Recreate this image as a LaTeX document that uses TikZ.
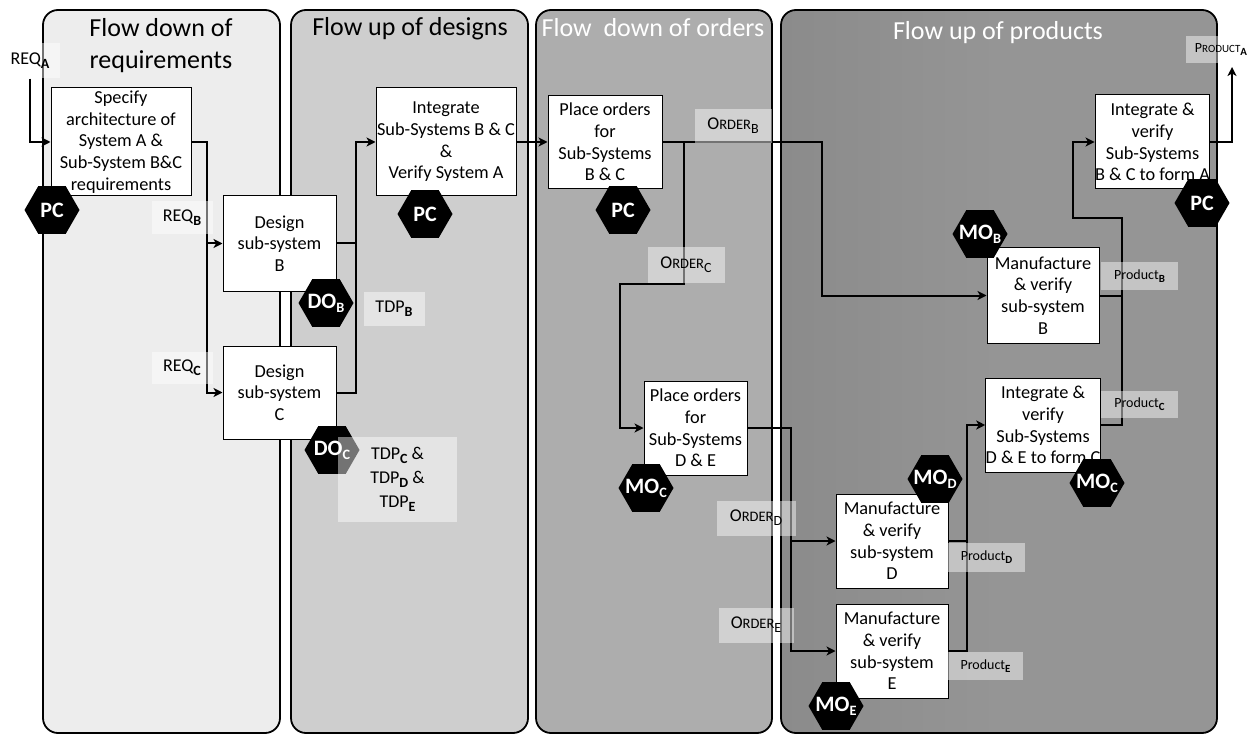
\documentclass[tikz,border=0pt]{standalone}
\usepackage{fontspec}
\usepackage{graphicx}
\setmainfont{Carlito}
\usetikzlibrary{shapes.geometric,arrows.meta,calc}

% bold subscript used on most flow labels
\newcommand\bsub[1]{\raisebox{-0.45ex}{\scalebox{0.78}{\textbf{#1}}}}
\newcommand\rsub[1]{\raisebox{-0.45ex}{\scalebox{0.78}{#1}}}
% hand-made small capitals for the ORDER / PRODUCT tags
\newcommand\ordtag[1]{O{\fontsize{14.5}{14.5}\selectfont RDER}\rsub{#1}}
\newcommand\prodcaps[1]{{\fontsize{14}{14}\selectfont P}{\fontsize{11}{11}\selectfont RODUCT}\bsub{#1}}
% subscript inside the control hexagons
\newcommand\hsub[1]{\raisebox{-0.4ex}{\scalebox{0.65}{#1}}}

\definecolor{laneA}{HTML}{EDEDED}
\definecolor{laneB}{HTML}{CECECE}
\definecolor{laneC}{HTML}{ADADAD}
\definecolor{laneD}{HTML}{959595}
\definecolor{laneDedge}{HTML}{8B8B8B}

\begin{document}
\begin{tikzpicture}[x=1pt,y=-1pt,
  lane/.style={draw=black, line width=1.8pt, rounded corners=15pt},
  lanetitle/.style={font=\fontsize{26}{32}\selectfont, align=center},
  box/.style={draw=black, line width=1pt, fill=white, inner sep=0pt, align=center,
    font=\fontsize{18.3}{21.7}\selectfont},
  hexa/.style={regular polygon, regular polygon sides=6, fill=black, draw=none,
    minimum size=55pt, inner sep=0pt},
  hextxt/.style={text=white, inner sep=0pt, font=\bfseries\fontsize{22}{22}\selectfont},
  tag/.style={fill=white, fill opacity=0.45, text opacity=1, inner sep=0pt, align=center,
    font=\fontsize{18}{24}\selectfont},
  smalltag/.style={tag, font=\fontsize{14}{16}\selectfont},
  wire/.style={line width=2pt},
  conn/.style={wire, -{Stealth[length=9pt, width=9pt, inset=2.5pt]}}
]
\useasboundingbox[fill=white] (0,0) rectangle (1257,735);

% swim lanes
\path[lane, fill=laneA] (43,10) rectangle (280,733);
\path[lane, fill=laneB] (291,10) rectangle (528,733);
\path[lane, fill=laneC] (536,10) rectangle (772,733);
\path[lane, left color=laneDedge, right color=laneD, middle color=laneD] (781,10) rectangle (1217,733);

\node[lanetitle] (t1) at (161,46) {Flow down of\\requirements};
\node[lanetitle, anchor=base] (t2) at (410,36) {Flow up of designs};
\node[lanetitle, anchor=base, text=white] (t3) at (653,37) {Flow\ \ down of orders};
\node[lanetitle, anchor=base, text=white] (t4) at (998,40) {Flow up of products};

% activity boxes
\node[box, minimum width=140pt, minimum height=108pt] (spec) at (121,142)
  {Specify\\architecture of\\System A \&\\Sub-System B\&C\\requirements};
\node[box, minimum width=113pt, minimum height=95pt] (desB) at (279.5,243.5)
  {Design\\sub-system\\B};
\node[box, minimum width=113pt, minimum height=93pt] (desC) at (279.5,392.5)
  {Design\\sub-system\\C};
\node[box, minimum width=140pt, minimum height=108pt] (intA) at (446,142)
  {Integrate\\Sub-Systems B \& C\\\&\\Verify System A};
\node[box, minimum width=114pt, minimum height=93pt] (poBC) at (605,142)
  {Place orders\\for\\Sub-Systems\\B \& C};
\node[box, minimum width=103pt, minimum height=94pt] (poDE) at (695.5,428)
  {Place orders\\for\\Sub-Systems\\D \& E};
\node[box, minimum width=113pt, minimum height=94pt] (ivA) at (1152.5,142)
  {Integrate \&\\verify\\Sub-Systems\\B \& C to form A};
\node[box, minimum width=112pt, minimum height=95pt] (mB) at (1043,295.5)
  {Manufacture\\\& verify\\sub-system\\B};
\node[box, minimum width=112pt, minimum height=94pt] (ivC) at (1043,425)
  {Integrate \&\\verify\\Sub-Systems\\D \& E to form C};
\node[box, minimum width=112pt, minimum height=94pt] (mD) at (892,541)
  {Manufacture\\\& verify\\sub-system\\D};
\node[box, minimum width=112pt, minimum height=94pt] (mE) at (892,651)
  {Manufacture\\\& verify\\sub-system\\E};

% routing columns of the connectors
\coordinate (cReq) at (207,0);
\coordinate (cDes) at (356,0);
\coordinate (cOrdC) at (684,0);
\coordinate (jOrdC) at (620,284);
\coordinate (cOrdB) at (822,0);
\coordinate (cOrdDE) at (791,0);
\coordinate (cProdDE) at (967,0);
\coordinate (cProdBC) at (1122,0);
\coordinate (jProdBC) at (1073,218);
\coordinate (outA) at (1232,67);

% flow tags
\node[tag, minimum width=60pt, minimum height=35pt] (reqA) at (30,61) {REQ\bsub{A}};

% connectors
\draw[conn] (reqA.south) |- (spec.west);
\draw[conn] (spec.east) -- (spec.east -| cReq) |- (desB.west);
\draw[conn] (spec.east -| cReq) |- (desC.west);
\draw[wire] (desB.east) -- (desB.east -| cDes);
\draw[conn] (desC.east) -- (desC.east -| cDes) |- (intA.west);
\draw[conn] (intA.east) -- (poBC.west);
\draw[conn] (poBC.east) -- (poBC.east -| cOrdB) |- (mB.west);
\draw[conn] (poBC.east -| cOrdC) -- (cOrdC |- jOrdC) -- (jOrdC) |- (poDE.west);
\draw[conn] (poDE.east) -- (poDE.east -| cOrdDE) |- (mD.west);
\draw[conn] (poDE.east -| cOrdDE) |- (mE.west);
\draw[wire] (mD.east) -- (mD.east -| cProdDE);
\draw[conn] (mE.east) -- (mE.east -| cProdDE) |- (ivC.west);
\draw[wire] (mB.east) -- (mB.east -| cProdBC);
\draw[conn] (ivC.east) -- (ivC.east -| cProdBC) -- (cProdBC |- jProdBC) -- (jProdBC) |- (ivA.west);
\draw[conn] (ivA.east) -| (outA);

% control hexagons
\node[hexa, label={[hextxt]center:PC}] (pc1) at (52,210) {};
\node[hexa, label={[hextxt]center:PC}] (pc2) at (425,214) {};
\node[hexa, label={[hextxt]center:PC}] (pc3) at (623,210) {};
\node[hexa, label={[hextxt]center:PC}] (pc4) at (1202,203) {};
\node[hexa, label={[hextxt]center:{DO\hsub{B}}}] (doB) at (326,303) {};
\node[hexa, label={[hextxt]center:{DO\hsub{C}}}] (doC) at (332,450) {};
\node[hexa, label={[hextxt]center:{MO\hsub{C}}}] (moC1) at (646,488) {};
\node[hexa, label={[hextxt]center:{MO\hsub{B}}}] (moB) at (980,234) {};
\node[hexa, label={[hextxt]center:{MO\hsub{D}}}] (moD) at (935,479) {};
\node[hexa, label={[hextxt]center:{MO\hsub{C}}}] (moC2) at (1097,483) {};
\node[hexa, label={[hextxt]center:{MO\hsub{E}}}] (moE) at (836,706) {};

% remaining flow tags
\node[tag, minimum width=61pt, minimum height=33pt] (reqB) at (182,218) {REQ\bsub{B}};
\node[tag, minimum width=61pt, minimum height=32pt] (reqC) at (182,368) {REQ\bsub{C}};
\node[tag, minimum width=61pt, minimum height=34pt] (tdpB) at (394,309) {TDP\bsub{B}};
\node[tag, minimum width=119pt, minimum height=85pt] (tdpCDE) at (397.5,479.5)
  {TDP\bsub{C} \&\\TDP\bsub{D} \&\\TDP\bsub{E}};
\node[tag, minimum width=77pt, minimum height=34pt] (ordB) at (733,126) {\ordtag{B}};
\node[tag, minimum width=77pt, minimum height=35pt] (ordC) at (686,265) {\ordtag{C}};
\node[tag, minimum width=79pt, minimum height=35pt] (ordD) at (756,518) {\ordtag{D}};
\node[tag, minimum width=75pt, minimum height=35pt] (ordE) at (756,625) {\ordtag{E}};
\node[smalltag, minimum width=70pt, minimum height=27pt] (prodA) at (1221,50) {\prodcaps{A}};
\node[smalltag, minimum width=77pt, minimum height=28pt] (prodB) at (1139.5,276) {Product\bsub{B}};
\node[smalltag, minimum width=77pt, minimum height=27pt] (prodC) at (1139.5,404.5) {Product\bsub{C}};
\node[smalltag, minimum width=77pt, minimum height=29pt] (prodD) at (986.5,557.5) {Product\bsub{D}};
\node[smalltag, minimum width=75pt, minimum height=28pt] (prodE) at (985.5,666) {Product\bsub{E}};
\end{tikzpicture}
\end{document}
